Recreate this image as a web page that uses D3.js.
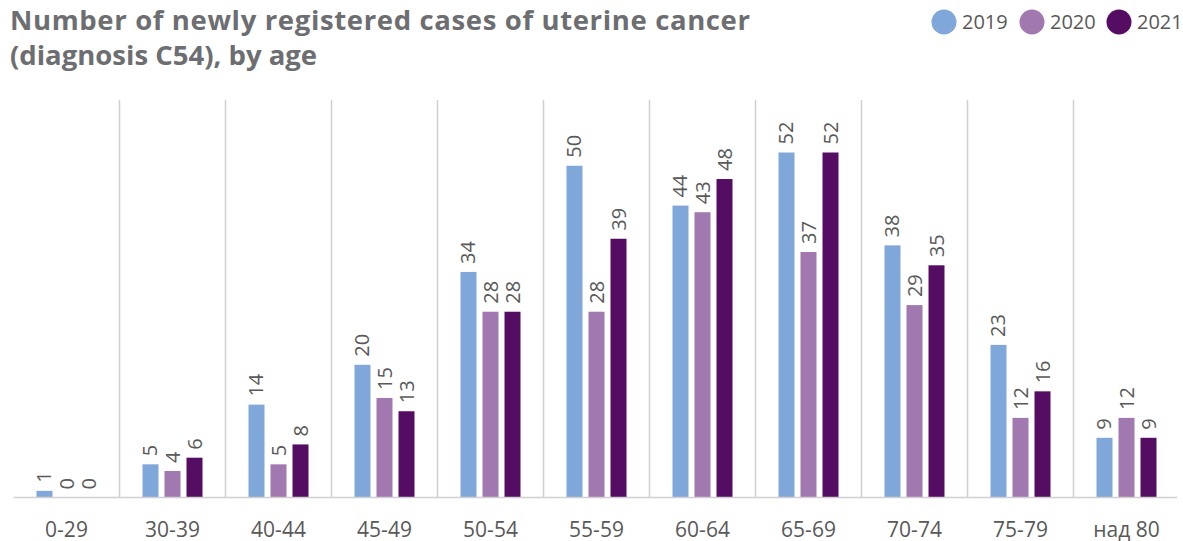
<!DOCTYPE html>
<html>
<head>
<meta charset="utf-8">
<script src="https://cdn.jsdelivr.net/npm/d3@7"></script>
<style>
  body { margin: 0; background: #fff; }
  text { font-family: "Open Sans", "Noto Sans", sans-serif; }
</style>
</head>
<body>
<div id="chart"></div>
<script>
var categories = ["0-29", "30-39", "40-44", "45-49", "50-54", "55-59", "60-64", "65-69", "70-74", "75-79", "над 80"];
var years = ["2019", "2020", "2021"];
var values2019 = [1, 5, 14, 20, 34, 50, 44, 52, 38, 23, 9];
var values2020 = [0, 4, 5, 15, 28, 28, 43, 37, 29, 12, 12];
var values2021 = [0, 6, 8, 13, 28, 39, 48, 52, 35, 16, 9];
var colors = ["#7fa7d9", "#a278b0", "#540d63"];

var width = 1183;
var height = 541;

var svg = d3.select("#chart").
append("svg").
attr("width", width).
attr("height", height);

// title, two lines
var titleLines = ["Number of newly registered cases of uterine cancer", "(diagnosis C54), by age"];
titleLines.forEach(function (t, i) {
  svg.append("text").
  attr("x", 10).
  attr("y", 30 + i * 35).
  attr("fill", "#6d6e71").
  attr("font-size", "27.5px").
  attr("font-weight", "bold").
  attr("textLength", i === 0 ? 740 : null).
  text(t);
});

// legend
var legendX = [944, 1032, 1119];
years.forEach(function (yr, i) {
  svg.append("circle").
  attr("cx", legendX[i]).
  attr("cy", 22).
  attr("r", 12.5).
  attr("fill", colors[i]);
  svg.append("text").
  attr("x", legendX[i] + 18).
  attr("y", 29).
  attr("fill", "#595959").
  attr("font-size", "20px").
  text(yr);
});

var left = 13.5;
var right = 1179.5;
var baseY = 497.5;
var topY = 100;

var x = d3.scaleBand().domain(categories).range([left, right]).padding(0);
var xInner = d3.scaleBand().domain(years).range([0, 60]).paddingInner(0.273);
var y = d3.scaleLinear().domain([0, 52]).range([baseY, baseY - 345]);

// vertical separators
svg.selectAll(".sep").
data(categories.slice(1)).
enter().
append("line").
attr("class", "sep").
attr("x1", function (d) { return x(d); }).
attr("x2", function (d) { return x(d); }).
attr("y1", topY).
attr("y2", baseY).
attr("stroke", "#d0d0d0").
attr("stroke-width", 1.5);

var series = [values2019, values2020, values2021];
var rows = [];
categories.forEach(function (c, ci) {
  years.forEach(function (yr, yi) {
    rows.push({ cat: c, year: yr, idx: yi, value: series[yi][ci] });
  });
});

var groupOffset = (x.bandwidth() - 60) / 2;

svg.selectAll(".bar").
data(rows).
enter().
append("rect").
attr("class", "bar").
attr("x", function (d) { return x(d.cat) + groupOffset + xInner(d.year); }).
attr("y", function (d) { return y(d.value); }).
attr("width", xInner.bandwidth()).
attr("height", function (d) { return baseY - y(d.value); }).
attr("fill", function (d) { return colors[d.idx]; });

svg.selectAll(".lbl").
data(rows).
enter().
append("text").
attr("class", "lbl").
attr("transform", function (d) {
  var cx = x(d.cat) + groupOffset + xInner(d.year) + xInner.bandwidth() / 2 + 7;
  var cy = y(d.value) - 8;
  return "translate(" + cx + "," + cy + ") rotate(-90)";
}).
attr("fill", "#595959").
attr("font-size", "20px").
text(function (d) { return d.value; });

// axis line
svg.append("line").
attr("x1", left).
attr("x2", 1177).
attr("y1", baseY).
attr("y2", baseY).
attr("stroke", "#d0d0d0").
attr("stroke-width", 1.5);

var xAxis = d3.axisBottom(x).tickSize(0).tickPadding(0);
var gx = svg.append("g").
attr("transform", "translate(0," + baseY + ")").
call(xAxis);
gx.select(".domain").remove();
gx.selectAll("text").
attr("y", 39).
attr("dy", 0).
attr("fill", "#595959").
attr("font-size", "21px").
attr("font-family", "\"Open Sans\", \"Noto Sans\", sans-serif");
</script>
</body>
</html>
